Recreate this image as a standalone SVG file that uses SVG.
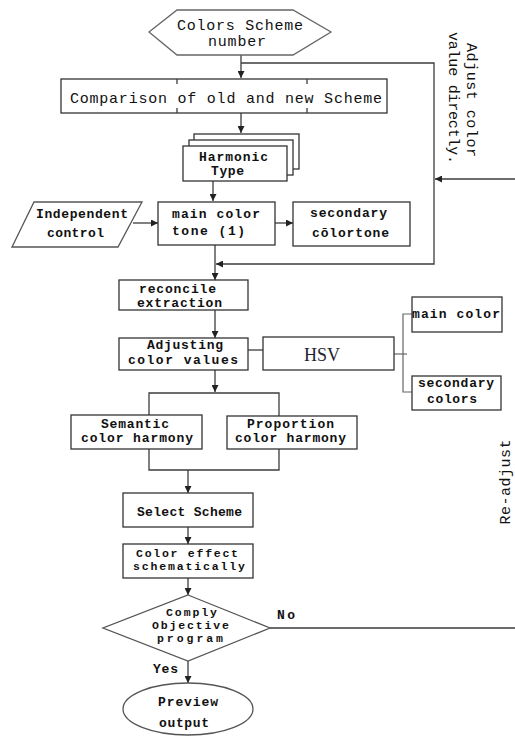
<svg xmlns="http://www.w3.org/2000/svg" width="515" height="736" viewBox="0 0 515 736">
<defs>
<marker id="arr" viewBox="0 0 10 10" refX="10" refY="5" markerWidth="7" markerHeight="7" markerUnits="userSpaceOnUse" orient="auto">
<path d="M0,0 L10,5 L0,10 z" fill="#222"/>
</marker>
<style>
.box{fill:#fff;stroke:#333;stroke-width:1.3}
.ln{fill:none;stroke:#3c3c3c;stroke-width:1.3}
.gl{fill:none;stroke:#666;stroke-width:1.2}
.t{font-family:"Liberation Mono",monospace;font-size:13px;font-weight:bold;fill:#111}
.s{font-size:11.5px}
.tr{font-family:"Liberation Mono",monospace;font-size:15px;fill:#111}
.hsv{font-family:"Liberation Serif",serif;font-size:18px;fill:#1e2430}
</style>
</defs>
<rect width="515" height="736" fill="#fff"/>

<g id="connectors">
<line class="ln" x1="241" y1="55" x2="241" y2="78" marker-end="url(#arr)"/>
<polyline class="ln" points="241,63 434,63 434,264 216,264" marker-end="url(#arr)"/>
<line class="ln" x1="515" y1="179" x2="435" y2="179" marker-end="url(#arr)"/>
<line class="ln" x1="241" y1="113" x2="241" y2="133" marker-end="url(#arr)"/>
<line class="ln" x1="213" y1="181" x2="213" y2="201" marker-end="url(#arr)"/>
<line class="ln" x1="133" y1="223" x2="158" y2="223" marker-end="url(#arr)"/>
<line class="ln" x1="275" y1="223" x2="293" y2="223" marker-end="url(#arr)"/>
<line class="ln" x1="215" y1="245" x2="215" y2="280" marker-end="url(#arr)"/>
<line class="ln" x1="215" y1="310" x2="215" y2="338" marker-end="url(#arr)"/>
<line class="ln" x1="248" y1="350" x2="263" y2="350"/>
<line class="gl" x1="394" y1="354" x2="407" y2="354"/>
<polyline class="gl" points="412,314 403,314 403,392 412,392"/>
<line class="ln" x1="215" y1="370" x2="215" y2="392" marker-end="url(#arr)"/>
<polyline class="ln" points="149,415 149,393 279,393 279,416"/>
<polyline class="ln" points="149,449 149,470 279,470 279,449"/>
<line class="ln" x1="188" y1="470" x2="188" y2="493" marker-end="url(#arr)"/>
<line class="ln" x1="188" y1="527" x2="188" y2="544" marker-end="url(#arr)"/>
<line class="ln" x1="188" y1="578" x2="188" y2="595" marker-end="url(#arr)"/>
<line class="ln" x1="270" y1="628" x2="515" y2="628"/>
<line class="ln" x1="188" y1="661" x2="188" y2="683" marker-end="url(#arr)"/>
</g>

<g id="start">
<polygon class="box" points="149,32 177,10 293,10 331,32 293,55 177,55" style="stroke:#666"/>
<text class="tr" x="240" y="30" text-anchor="middle" textLength="126">Colors Scheme</text>
<text class="tr" x="237" y="46" text-anchor="middle" textLength="58">number</text>
</g>

<g id="comparison">
<rect class="box" x="61" y="79" width="326" height="34"/>
<line class="ln" x1="177" y1="79" x2="177" y2="84"/>
<line class="ln" x1="177" y1="108" x2="177" y2="113"/>
<line class="ln" x1="307" y1="79" x2="307" y2="84"/>
<line class="ln" x1="307" y1="108" x2="307" y2="113"/>
<text class="tr" x="70" y="103" textLength="312">Comparison of old and new Scheme</text>
</g>

<g id="harmonic">
<rect class="box" x="194" y="134" width="105" height="35"/>
<rect class="box" x="189" y="140" width="104" height="35"/>
<rect class="box" x="183" y="146" width="104" height="35"/>
<text class="t" x="199" y="161" textLength="69">Harmonic</text>
<text class="t" x="211" y="175" textLength="33">Type</text>
</g>

<g id="independent">
<polygon class="box" points="34,202 142,202 118,247 12,247" style="stroke:#555"/>
<text class="t" x="36" y="218" textLength="92">Independent</text>
<text class="t" x="47" y="237" textLength="57">control</text>
</g>

<g id="maintone">
<rect class="box" x="158" y="202" width="117" height="43"/>
<text class="t" x="172" y="218" textLength="88">main color</text>
<text class="t" x="172" y="235" textLength="73">tone (1)</text>
</g>

<g id="secondarytone">
<rect class="box" x="293" y="202" width="117" height="44"/>
<text class="t" x="310" y="217" textLength="77">secondary</text>
<text class="t" x="312" y="237" textLength="77">cōlortone</text>
</g>

<g id="reconcile">
<rect class="box" x="119" y="280" width="129" height="30"/>
<text class="t" x="139" y="293" textLength="77">reconcile</text>
<text class="t" x="137" y="307" textLength="85">extraction</text>
</g>

<g id="adjusting">
<rect class="box" x="119" y="338" width="129" height="32"/>
<text class="t" x="147" y="349" textLength="76">Adjusting</text>
<text class="t" x="128" y="364" textLength="110">color values</text>
</g>

<g id="hsv">
<rect class="box" x="263" y="337" width="131" height="33"/>
<text class="hsv" x="322" y="361" text-anchor="middle">HSV</text>
</g>

<g id="maincolor">
<rect class="box" x="412" y="297" width="90" height="35"/>
<text class="t" x="412" y="318" textLength="88">main color</text>
</g>

<g id="secondarycolors">
<rect class="box" x="412" y="376" width="89" height="34"/>
<text class="t" x="418" y="387" textLength="76">secondary</text>
<text class="t" x="427" y="403" textLength="50">colors</text>
</g>

<g id="semantic">
<rect class="box" x="71" y="415" width="131" height="34"/>
<text class="t" x="101" y="428" textLength="68">Semantic</text>
<text class="t" x="81" y="442" textLength="112">color harmony</text>
</g>

<g id="proportion">
<rect class="box" x="227" y="416" width="130" height="33"/>
<text class="t" x="247" y="428" textLength="87">Proportion</text>
<text class="t" x="235" y="442" textLength="111">color harmony</text>
</g>

<g id="select">
<rect class="box" x="123" y="493" width="130" height="34"/>
<text class="t" x="137" y="516" textLength="105">Select Scheme</text>
</g>

<g id="effect">
<rect class="box" x="123" y="544" width="130" height="34"/>
<text class="t s" x="136" y="557" textLength="102">Color effect</text>
<text class="t s" x="133" y="570" textLength="112">schematically</text>
</g>

<g id="comply">
<polygon class="box" points="188,595 270,628 188,661 103,628" style="stroke:#555"/>
<text class="t s" x="166" y="616" textLength="51">Comply</text>
<text class="t s" x="152" y="629" textLength="77">Objective</text>
<text class="t s" x="157" y="642" textLength="66">program</text>
</g>

<g id="preview">
<ellipse class="box" cx="188" cy="709" rx="65" ry="26" style="stroke:#555"/>
<text class="t" x="158" y="706" textLength="60">Preview</text>
<text class="t" x="159" y="727" textLength="50">output</text>
</g>

<g id="labels">
<text class="t" x="277" y="619" textLength="18">No</text>
<text class="t" x="153" y="673" textLength="25">Yes</text>
<text class="tr" transform="translate(510,482) rotate(-90)" text-anchor="middle" textLength="85">Re-adjust</text>
<text class="tr" transform="translate(467,100) rotate(90)" text-anchor="middle" textLength="114">Adjust color</text>
<text class="tr" transform="translate(449,98) rotate(90)" text-anchor="middle" textLength="132">value directly.</text>
</g>
</svg>
